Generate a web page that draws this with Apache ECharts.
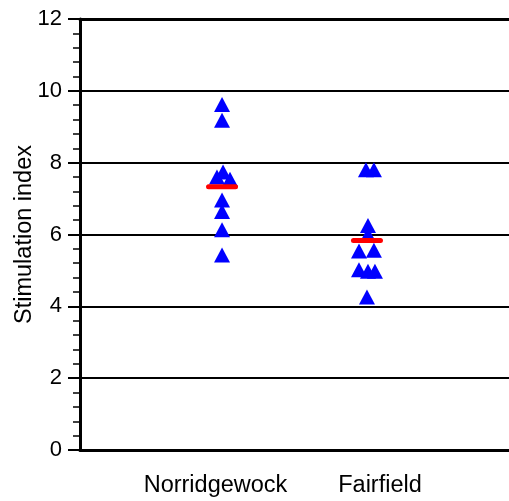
<!DOCTYPE html>
<html>
<head>
<meta charset="utf-8">
<script src="https://cdn.jsdelivr.net/npm/echarts@6/dist/echarts.min.js"></script>
<style>
  html, body { margin: 0; padding: 0; background: #fff; }
  #chart { width: 509px; height: 501px; }
</style>
</head>
<body>
<div id="chart"></div>
<script>
// Stimulation index per animal, grouped by site
const groups = ['Norridgewock', 'Fairfield'];
const norridgewockSI = [9.62, 9.18, 7.74, 7.60, 7.54, 6.96, 6.64, 6.13, 5.43];
const norridgewockJitter = [0, 0, 0.007, -0.035, 0.055, 0, 0, 0, 0];
const fairfieldSI = [7.80, 7.80, 6.25, 6.00, 5.54, 5.56, 5.02, 4.98, 4.98, 4.26];
const fairfieldJitter = [-0.007, 0.048, 0.007, 0.007, -0.055, 0.048, -0.055, 0.007, 0.055, 0];
const groupMeans = [7.33, 5.83];
const yTickValues = [0, 2, 4, 6, 8, 10, 12];

const FONT = 'Liberation Sans, Arial, sans-serif';

// column position of each group on the x scale
const groupX = groups.map((g, i) => i + 1);
// where the group names sit under the columns
const nameX = [0.955, 2.09];

function points(values, jitter, gx) {
  return values.map((v, i) => [gx + jitter[i], v]);
}

const chart = echarts.init(document.getElementById('chart'), null, { renderer: 'canvas' });

chart.setOption({
  animation: false,
  backgroundColor: '#fff',
  grid: { left: 80, right: 0, top: 19, bottom: 51, containLabel: false, outerBoundsMode: 'none' },
  xAxis: [
    {
      type: 'value',
      min: 0.02,
      max: 2.98,
      position: 'bottom',
      axisLine: { show: true, onZero: false, lineStyle: { color: '#000', width: 3 } },
      axisTick: { show: false },
      splitLine: { show: false },
      axisLabel: {
        customValues: nameX,
        margin: 24,
        color: '#000',
        fontSize: 23.5,
        fontFamily: FONT,
        formatter: (v) => {
          let best = 0;
          nameX.forEach((x, i) => { if (Math.abs(x - v) < Math.abs(nameX[best] - v)) best = i; });
          return groups[best];
        }
      }
    },
    {
      type: 'value',
      min: 0.02,
      max: 2.98,
      position: 'top',
      axisLine: { show: true, onZero: false, lineStyle: { color: '#000', width: 3 } },
      axisTick: { show: false },
      axisLabel: { show: false },
      splitLine: { show: false }
    }
  ],
  yAxis: {
    type: 'value',
    min: yTickValues[0],
    max: yTickValues[yTickValues.length - 1],
    interval: yTickValues[1] - yTickValues[0],
    name: 'Stimulation index',
    nameLocation: 'middle',
    nameGap: 43,
    nameMoveOverlap: false,
    nameTextStyle: { color: '#000', fontSize: 23.5, fontFamily: FONT },
    axisLine: { show: true, onZero: false, lineStyle: { color: '#000', width: 3 } },
    axisTick: { show: true, length: 12, lineStyle: { color: '#000', width: 2 } },
    minorTick: { show: true, splitNumber: 5, length: 7, lineStyle: { color: '#000', width: 1.5 } },
    splitLine: { show: true, lineStyle: { color: '#000', width: 2 } },
    axisLabel: { color: '#000', fontSize: 22, fontFamily: FONT, margin: 18 }
  },
  series: [
    {
      type: 'scatter',
      symbol: 'triangle',
      symbolSize: [16, 15],
      itemStyle: { color: '#0000ff', opacity: 1 },
      data: points(norridgewockSI, norridgewockJitter, groupX[0]),
      z: 3
    },
    {
      type: 'scatter',
      symbol: 'triangle',
      symbolSize: [16, 15],
      itemStyle: { color: '#0000ff', opacity: 1 },
      data: points(fairfieldSI, fairfieldJitter, groupX[1]),
      z: 3
    },
    {
      // group mean bars
      type: 'custom',
      z: 5,
      data: groupMeans.map((m, i) => [groupX[i], m]),
      renderItem: (params, api) => {
        const p = api.coord([api.value(0), api.value(1)]);
        return {
          type: 'line',
          shape: { x1: p[0] - 13.5, y1: p[1], x2: p[0] + 13.5, y2: p[1] },
          style: { stroke: '#ff0000', lineWidth: 5, lineCap: 'round' }
        };
      }
    }
  ]
});
</script>
</body>
</html>
